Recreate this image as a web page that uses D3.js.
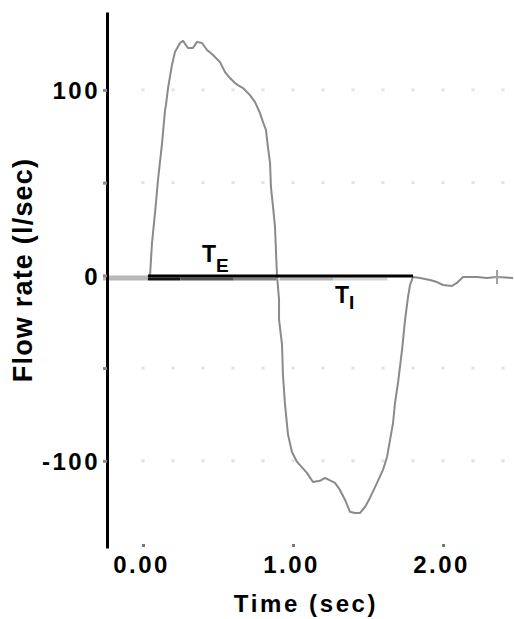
<!DOCTYPE html>
<html><head><meta charset="utf-8">
<script src="https://cdn.jsdelivr.net/npm/d3@7"></script>
<style>html,body{margin:0;padding:0;background:#fff;} svg{display:block;}</style>
</head><body>
<script>
// ---- data ----
const timeSec = [0.047,0.06,0.08,0.10,0.127,0.147,0.153,0.167,0.193,0.213,0.247,0.267,0.30,0.333,0.36,0.393,0.427,0.467,0.513,0.547,0.58,0.613,0.633,0.667,0.713,0.747,0.78,0.80,0.82,0.833,0.847,0.853,0.867,0.88,0.887,0.893,0.907,0.907,0.927,0.933,0.947,0.967,0.993,1.027,1.093,1.133,1.18,1.213,1.28,1.313,1.347,1.38,1.413,1.447,1.48,1.513,1.56,1.60,1.627,1.647,1.667,1.68,1.70,1.727,1.747,1.767,1.78,1.80,1.847,1.913,1.96,2.0,2.06,2.093,2.133,2.227,2.293,2.36,2.467];
const flowLps = [0,17.5,33.6,51.4,71.3,89.1,91.8,101,113.4,120.4,125.3,126.4,122.6,122.6,125.9,125.3,121.5,118.8,115.0,109.6,106.4,103.7,102.6,101.0,97.2,93.4,87.5,82.6,78.3,69.2,60.5,47.6,36.9,26.1,12.1,0.2,-13.2,-24,-37.5,-53.6,-69.8,-86,-95.2,-100.6,-106.5,-111.4,-110.8,-109.2,-111.9,-115.7,-121.1,-127.5,-128.1,-128.1,-124.9,-120,-111.9,-104.9,-97.9,-88.7,-79.6,-68.8,-58,-40.2,-24,-11.6,-5.2,-0.9,-1.4,-2.5,-3.6,-5.2,-5.7,-4.1,-0.9,-0.9,-1.4,-0.9,-1.4];
const baselineTime = [-0.267, 0.033];
const zeroBarTime = [0.033, 1.80];
const underBarStart = [0.033, 0.25, 0.60, 0.91, 1.27];
const underBarEnd   = [0.25, 0.60, 0.89, 1.27, 1.63];
const yTickValues = [100, 50, 0, -50, -100];
const yTickLabels = ["100", "", "0", "", "-100"];
const xTickValues = [0, 1, 2];
const xTickLabels = ["0.00", "1.00", "2.00"];
const gridTimes = [0,0.2,0.4,0.6,0.8,1.0,1.2,1.4,1.6,1.8,2.0,2.2,2.4];
const gridValues = [100, 50, -50, -100];
const markerTime = [2.36];
const markerFlow = [-0.9];
const xTitle = "Time (sec)";
const yTitle = "Flow rate (l/sec)";
const phaseLabels = [{main: "T", sub: "E", t: 0.393}, {main: "T", sub: "I", t: 1.28}];

// ---- styles ----
const underColors = ["#141414", "#505050", "#808080", "#b4b4b4", "#d4d4d4"];
const FONT = "'Liberation Sans', Arial, sans-serif";

const W = 514, H = 619;
const svg = d3.select("body").append("svg").attr("width", W).attr("height", H);

const x = d3.scaleLinear().domain([-0.24, 2.48]).range([107, 515]);
const y = d3.scaleLinear().domain([-147, 142]).range([548, 12]);

// grid dots
const gridPts = [];
gridValues.forEach(v => gridTimes.forEach(t => gridPts.push([t, v])));
svg.append("g").selectAll("rect").data(gridPts).join("rect")
  .attr("x", d => x(d[0]) - 1.5).attr("y", d => y(d[1]) - 1.5)
  .attr("width", 3).attr("height", 3).attr("fill", "#e2e2e2");

// baseline before inspiration
svg.append("line")
  .attr("x1", x(baselineTime[0])).attr("x2", x(baselineTime[1]))
  .attr("y1", y(0) + 2.6).attr("y2", y(0) + 2.6)
  .attr("stroke", "#b8b8b8").attr("stroke-width", 5);

// under bar (graded)
svg.append("g").selectAll("line").data(underBarStart).join("line")
  .attr("x1", d => x(d)).attr("x2", (d, i) => x(underBarEnd[i]))
  .attr("y1", y(0) + 3.6).attr("y2", y(0) + 3.6)
  .attr("stroke", (d, i) => underColors[i]).attr("stroke-width", 3);

// flow curve
const pts = timeSec.map((t, i) => [t, flowLps[i]]);
svg.append("path").datum(pts)
  .attr("d", d3.line().x(d => x(d[0])).y(d => y(d[1])))
  .attr("fill", "none").attr("stroke", "#8a8a8a").attr("stroke-width", 2)
  .attr("stroke-linejoin", "round");

// zero bar (T_E + T_I)
svg.append("line")
  .attr("x1", x(zeroBarTime[0])).attr("x2", x(zeroBarTime[1]))
  .attr("y1", y(0) + 0.6).attr("y2", y(0) + 0.6)
  .attr("stroke", "#000").attr("stroke-width", 3);

// small plus marker
markerTime.forEach((t, i) => {
  svg.append("line").attr("x1", x(t)).attr("x2", x(t))
    .attr("y1", y(markerFlow[i]) - 7).attr("y2", y(markerFlow[i]) + 7)
    .attr("stroke", "#a0a0a0").attr("stroke-width", 2);
  svg.append("line").attr("x1", x(t) - 5).attr("x2", x(t) + 5)
    .attr("y1", y(markerFlow[i])).attr("y2", y(markerFlow[i]))
    .attr("stroke", "#a0a0a0").attr("stroke-width", 2);
});

// phase labels
const below = [ -13, 28 ];
const subDy = [ 10, 6 ];
phaseLabels.forEach((p, i) => {
  const tx = svg.append("text").attr("x", x(p.t)).attr("y", y(0) + below[i])
    .attr("font-family", FONT).attr("font-size", 23).attr("font-weight", "bold").attr("fill", "#000");
  tx.append("tspan").text(p.main);
  tx.append("tspan").attr("dy", subDy[i]).attr("dx", 0).attr("font-size", 19).text(p.sub);
});

// y axis
const yAxis = d3.axisLeft(y).tickValues(yTickValues)
  .tickFormat((d, i) => yTickLabels[i]).tickSize(4).tickSizeOuter(0).tickPadding(8);
const gy = svg.append("g").attr("transform", "translate(107,0)").call(yAxis);
gy.select(".domain").attr("stroke", "#000").attr("stroke-width", 3);
gy.selectAll(".tick line").attr("stroke", "#8a8a8a").attr("stroke-width", 3);
gy.selectAll(".tick text").attr("font-family", FONT).attr("font-size", 24).attr("font-weight", "bold")
  .attr("letter-spacing", 2.5).attr("fill", "#000").attr("x", -7).attr("dy", "0.36em");

// x axis
const xAxis = d3.axisBottom(x).tickValues(xTickValues)
  .tickFormat((d, i) => xTickLabels[i]).tickSize(3).tickSizeOuter(0);
const gx = svg.append("g").attr("transform", "translate(0,544)").call(xAxis);
gx.select(".domain").remove();
gx.selectAll(".tick line").attr("stroke", "#777").attr("stroke-width", 3);
gx.selectAll(".tick text").attr("font-family", FONT).attr("font-size", 24).attr("font-weight", "bold")
  .attr("letter-spacing", 2.5).attr("fill", "#000").attr("dy", 0).attr("y", 29).attr("dx", -2);

// titles
svg.append("text").attr("x", 306).attr("y", 612).attr("text-anchor", "middle")
  .attr("font-family", FONT).attr("font-size", 24).attr("font-weight", "bold")
  .attr("letter-spacing", 2.6).text(xTitle);
svg.append("text").attr("transform", "translate(32,270) rotate(-90)").attr("text-anchor", "middle")
  .attr("font-family", FONT).attr("font-size", 27).attr("font-weight", "bold")
  .attr("letter-spacing", 1.2).text(yTitle);
</script>
</body></html>
